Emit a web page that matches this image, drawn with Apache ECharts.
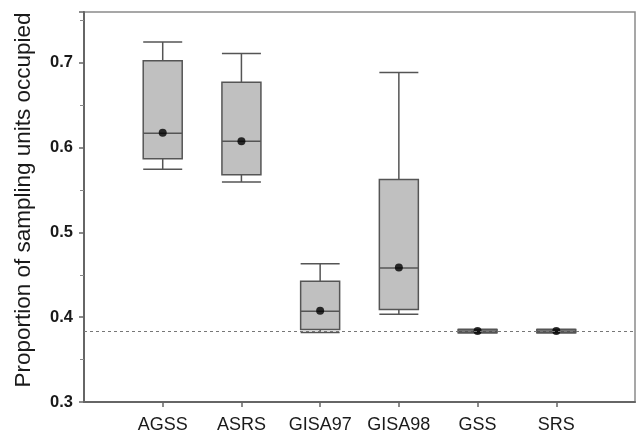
<!DOCTYPE html>
<html>
<head>
<meta charset="utf-8">
<script src="https://cdn.jsdelivr.net/npm/echarts@6/dist/echarts.min.js"></script>
<style>
html,body{margin:0;padding:0;background:#fff;}
#c{width:638px;height:439px;}
</style>
</head>
<body>
<div id="c"></div>
<script>
// Data
const categories = ['AGSS', 'ASRS', 'GISA97', 'GISA98', 'GSS', 'SRS'];
const whiskerLow = [0.5745, 0.5595, 0.3820, 0.4035, 0.3815, 0.3815];
const q1Values   = [0.5870, 0.5680, 0.3855, 0.4090, 0.3818, 0.3818];
const medians    = [0.6170, 0.6075, 0.4070, 0.4580, 0.3835, 0.3835];
const q3Values   = [0.7025, 0.6770, 0.4425, 0.5625, 0.3855, 0.3855];
const whiskerHigh= [0.7245, 0.7110, 0.4630, 0.6885, 0.3858, 0.3858];
const means      = [0.6175, 0.6075, 0.4075, 0.4585, 0.3838, 0.3838];
const referenceLevel = 0.383;
const yTicks = [0.3, 0.4, 0.5, 0.6, 0.7];

const axisSlots = [''].concat(categories, ['']);

const boxData = categories.map((c, i) => [c, whiskerLow[i], q1Values[i], medians[i], q3Values[i], whiskerHigh[i]]);
const meanData = categories.map((c, i) => [c, means[i]]);

const chart = echarts.init(document.getElementById('c'), null, {renderer: 'canvas'});
chart.setOption({
  animation: false,
  backgroundColor: '#ffffff',
  grid: {left: 84, right: 2, top: 12, bottom: 37, show: true, borderColor: '#8a8a8a', borderWidth: 1.5, backgroundColor: 'transparent'},
  xAxis: {
    type: 'category',
    data: axisSlots,
    boundaryGap: false,
    axisLine: {lineStyle: {color: '#666', width: 2}},
    axisTick: {show: true, inside: false, length: 5, lineStyle: {color: '#666', width: 1.5},
      interval: function (index) { return index >= 1 && index <= categories.length; }},
    axisLabel: {interval: 0, margin: 14, color: '#1a1a1a', fontSize: 18, fontFamily: 'Liberation Sans, Arial, sans-serif'},
    splitLine: {show: false}
  },
  yAxis: {
    type: 'value',
    min: 0.3,
    max: 0.76,
    interval: 0.1,
    name: 'Proportion of sampling units occupied',
    nameLocation: 'middle',
    nameGap: 49,
    nameTextStyle: {color: '#1a1a1a', fontSize: 22.5, fontFamily: 'Liberation Sans, Arial, sans-serif', padding: [0, 0, 0, 14]},
    axisLine: {show: true, lineStyle: {color: '#666', width: 2}},
    axisTick: {show: true, inside: false, length: 5, lineStyle: {color: '#666', width: 1.5}},
    minorTick: {show: true, splitNumber: 2, length: 4, lineStyle: {color: '#888', width: 1}},
    axisLabel: {color: '#1a1a1a', fontSize: 16.5, fontWeight: 'bold', margin: 11, fontFamily: 'Liberation Sans, Arial, sans-serif',
      showMaxLabel: false,
      formatter: function (v) {
        const hit = yTicks.find(t => Math.abs(t - v) < 1e-9);
        return hit === undefined ? '' : hit.toFixed(1);
      }},
    splitLine: {show: false}
  },
  series: [
    {
      type: 'boxplot',
      data: boxData,
      encode: {x: 0, y: [1, 2, 3, 4, 5]},
      boxWidth: [39, 39],
      itemStyle: {color: '#c0c0c0', borderColor: '#555', borderWidth: 1.5},
      z: 2
    },
    {
      type: 'scatter',
      data: meanData,
      symbol: 'circle',
      symbolSize: 8,
      itemStyle: {color: '#000'},
      z: 4,
      markLine: {
        silent: true,
        symbol: 'none',
        precision: 4,
        label: {show: false},
        lineStyle: {color: '#777', type: [3, 3], width: 1},
        data: [{yAxis: referenceLevel}]
      }
    }
  ]
});
</script>
</body>
</html>
